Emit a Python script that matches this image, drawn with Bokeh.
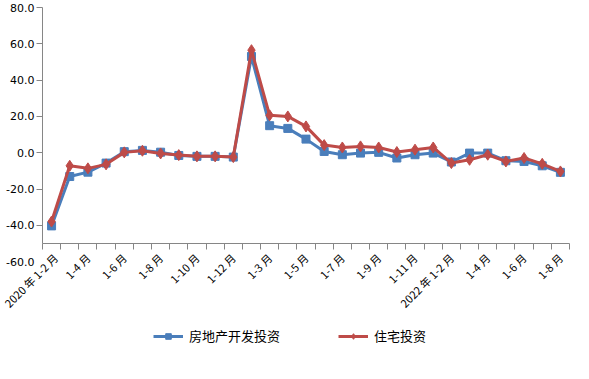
from math import pi
from bokeh.plotting import figure
from bokeh.models import (Range1d, FixedTicker, Legend, LegendItem, LinearAxis,
                          NumeralTickFormatter)
from bokeh.embed import file_html
from bokeh.resources import INLINE

categories = [
    "2020 年 1-2 月", "1-3 月", "1-4 月", "1-5 月", "1-6 月", "1-7 月", "1-8 月",
    "1-9 月", "1-10 月", "1-11 月", "1-12 月",
    "2021 年 1-2 月", "1-3 月", "1-4 月", "1-5 月", "1-6 月", "1-7 月", "1-8 月",
    "1-9 月", "1-10 月", "1-11 月", "1-12 月",
    "2022 年 1-2 月", "1-3 月", "1-4 月", "1-5 月", "1-6 月", "1-7 月", "1-8 月",
]
real_estate = [-40.3, -13.1, -10.7, -5.7, 0.6, 1.3, 0.3, -1.5, -2.0, -2.0, -2.4,
               53.0, 14.9, 13.4, 7.5, 0.7, -1.1, -0.2, 0.2, -2.9, -1.1, -0.2,
               -5.1, -0.2, -0.2, -4.4, -4.8, -7.2, -10.8]
housing = [-37.9, -7.2, -8.6, -6.4, 0.2, 1.1, -0.4, -1.3, -2.0, -2.0, -2.4,
           56.5, 20.6, 20.0, 14.5, 4.2, 2.9, 3.5, 2.9, 0.4, 1.7, 2.9,
           -5.7, -3.9, -1.1, -4.8, -2.9, -6.1, -10.3]
y_ticks = [-60, -40, -20, 0, 20, 40, 60, 80]
y_top, x_cross = 80, -50
series_names = ["房地产开发投资", "住宅投资"]

x = list(range(len(categories)))
label_idx = list(range(0, len(categories), 2))
x_first, x_last = -0.5, len(categories) - 0.5

BLUE = "#4A7EBB"
RED = "#BE4B48"
AX = "#868686"
CJK = "Noto Sans CJK SC"

# the frame covers the whole canvas; axes sit at fixed data locations inside it
p = figure(width=573, height=363, output_backend="svg", toolbar_location=None,
           x_range=Range1d(-2.81, 28.72), y_range=Range1d(-116.1, 83.86),
           min_border_left=0, min_border_right=0, min_border_top=0,
           min_border_bottom=0)
p.outline_line_color = None
p.xgrid.visible = False
p.ygrid.visible = False

# y axis line, from the x-axis crossing up to the top value
p.yaxis.fixed_location = x_first
p.yaxis.ticker = FixedTicker(ticks=[])
p.yaxis.bounds = (x_cross, y_top)
p.yaxis.axis_line_color = AX
p.yaxis.major_tick_out = 0
p.yaxis.major_tick_in = 0
p.yaxis.minor_tick_out = 0
p.yaxis.minor_tick_in = 0
p.yaxis.major_tick_line_color = None
p.yaxis.minor_tick_line_color = None
p.yaxis.major_label_standoff = 0

# y tick labels (incl. -60.0 under the crossing) and tick marks on the line
ylab = LinearAxis(fixed_location=x_first,
                  ticker=FixedTicker(ticks=y_ticks,
                                     minor_ticks=[t for t in y_ticks if t >= x_cross]),
                  formatter=NumeralTickFormatter(format="0.0"),
                  axis_line_color=None, major_tick_line_color=None,
                  minor_tick_line_color=AX, major_tick_out=6, major_tick_in=0,
                  minor_tick_out=6, minor_tick_in=0,
                  major_label_standoff=2, major_label_text_font="DejaVu Sans",
                  major_label_text_font_size="11px", major_label_text_color="#000000")
p.add_layout(ylab, "left")

# x axis crossing at -50
p.xaxis.fixed_location = x_cross
p.xaxis.bounds = (x_first, x_last)
p.xaxis.ticker = FixedTicker(ticks=label_idx,
                             minor_ticks=[i - 0.5 for i in range(len(categories) + 1)])
p.xaxis.major_label_overrides = {i: categories[i] for i in label_idx}
p.xaxis.major_label_orientation = pi / 4
p.xaxis.axis_line_color = AX
p.xaxis.major_tick_line_color = None
p.xaxis.minor_tick_line_color = AX
p.xaxis.minor_tick_out = 6
p.xaxis.minor_tick_in = 0
p.xaxis.major_label_standoff = 6
p.xaxis.major_label_text_font = CJK
p.xaxis.major_label_text_font_size = "11px"
p.xaxis.major_label_text_color = "#000000"

l1 = p.line(x, real_estate, line_color=BLUE, line_width=3)
m1 = p.scatter(x, real_estate, marker="square", size=8, fill_color=BLUE, line_color=BLUE)
l2 = p.line(x, housing, line_color=RED, line_width=3)
m2 = p.scatter(x, housing, marker="diamond", size=11, fill_color=RED, line_color=RED)

legend = Legend(items=[LegendItem(label=series_names[0], renderers=[l1, m1]),
                       LegendItem(label=series_names[1], renderers=[l2, m2])],
                orientation="horizontal", location=(153, 18),
                border_line_color=None, background_fill_alpha=0,
                label_text_font=CJK, label_text_font_size="13px",
                label_text_color="#000000",
                glyph_width=30, glyph_height=14, spacing=58, label_standoff=6,
                padding=1, margin=0)
p.add_layout(legend, "center")

open("out.html", "w").write(file_html(p, INLINE))
